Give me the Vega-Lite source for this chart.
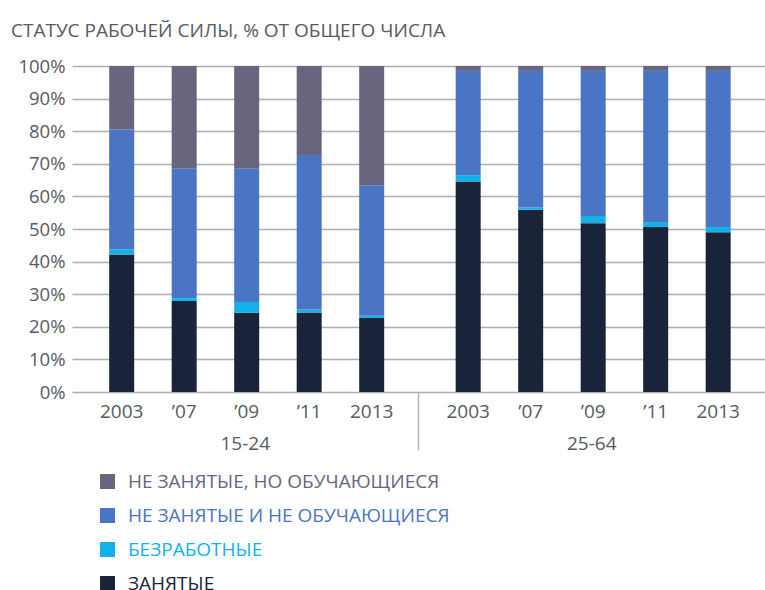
{
  "$schema": "https://vega.github.io/schema/vega-lite/v6.json",
  "width": 693,
  "height": 326,
  "autosize": {"type": "none"},
  "padding": {"left": 72, "top": 66, "right": 0, "bottom": 198},
  "background": "white",
  "config": {
    "font": "Open Sans",
    "view": {"stroke": null},
    "axisY": {
      "labelOverlap": false,
      "title": null,
      "values": [0, 10, 20, 30, 40, 50, 60, 70, 80, 90, 100],
      "labelExpr": "datum.value + '%'",
      "domain": false,
      "ticks": false,
      "grid": true,
      "gridColor": "#adadb8",
      "gridWidth": 1.5,
      "labelPadding": 7,
      "labelFontSize": 18.5,
      "labelColor": "#555a63"
    }
  },
  "title": {
    "text": "СТАТУС РАБОЧЕЙ СИЛЫ, % ОТ ОБЩЕГО ЧИСЛА",
    "anchor": "start",
    "frame": "bounds",
    "fontSize": 19,
    "fontWeight": "normal",
    "color": "#555a63",
    "offset": 16,
    "dx": -7
  },
  "data": {
    "values": [
      {"group": "15-24", "year": "2003", "status": "ЗАНЯТЫЕ", "k": 1, "value": 42.2},
      {"group": "15-24", "year": "2003", "status": "БЕЗРАБОТНЫЕ", "k": 2, "value": 1.6},
      {"group": "15-24", "year": "2003", "status": "НЕ ЗАНЯТЫЕ И НЕ ОБУЧАЮЩИЕСЯ", "k": 3, "value": 36.7},
      {"group": "15-24", "year": "2003", "status": "НЕ ЗАНЯТЫЕ, НО ОБУЧАЮЩИЕСЯ", "k": 4, "value": 19.5},
      {"group": "15-24", "year": "’07", "status": "ЗАНЯТЫЕ", "k": 1, "value": 27.9},
      {"group": "15-24", "year": "’07", "status": "БЕЗРАБОТНЫЕ", "k": 2, "value": 0.9},
      {"group": "15-24", "year": "’07", "status": "НЕ ЗАНЯТЫЕ И НЕ ОБУЧАЮЩИЕСЯ", "k": 3, "value": 39.7},
      {"group": "15-24", "year": "’07", "status": "НЕ ЗАНЯТЫЕ, НО ОБУЧАЮЩИЕСЯ", "k": 4, "value": 31.5},
      {"group": "15-24", "year": "’09", "status": "ЗАНЯТЫЕ", "k": 1, "value": 24.3},
      {"group": "15-24", "year": "’09", "status": "БЕЗРАБОТНЫЕ", "k": 2, "value": 3.3},
      {"group": "15-24", "year": "’09", "status": "НЕ ЗАНЯТЫЕ И НЕ ОБУЧАЮЩИЕСЯ", "k": 3, "value": 40.9},
      {"group": "15-24", "year": "’09", "status": "НЕ ЗАНЯТЫЕ, НО ОБУЧАЮЩИЕСЯ", "k": 4, "value": 31.5},
      {"group": "15-24", "year": "’11", "status": "ЗАНЯТЫЕ", "k": 1, "value": 24.4},
      {"group": "15-24", "year": "’11", "status": "БЕЗРАБОТНЫЕ", "k": 2, "value": 0.9},
      {"group": "15-24", "year": "’11", "status": "НЕ ЗАНЯТЫЕ И НЕ ОБУЧАЮЩИЕСЯ", "k": 3, "value": 47.4},
      {"group": "15-24", "year": "’11", "status": "НЕ ЗАНЯТЫЕ, НО ОБУЧАЮЩИЕСЯ", "k": 4, "value": 27.3},
      {"group": "15-24", "year": "2013", "status": "ЗАНЯТЫЕ", "k": 1, "value": 22.7},
      {"group": "15-24", "year": "2013", "status": "БЕЗРАБОТНЫЕ", "k": 2, "value": 0.7},
      {"group": "15-24", "year": "2013", "status": "НЕ ЗАНЯТЫЕ И НЕ ОБУЧАЮЩИЕСЯ", "k": 3, "value": 40.0},
      {"group": "15-24", "year": "2013", "status": "НЕ ЗАНЯТЫЕ, НО ОБУЧАЮЩИЕСЯ", "k": 4, "value": 36.6},
      {"group": "25-64", "year": "2003", "status": "ЗАНЯТЫЕ", "k": 1, "value": 64.6},
      {"group": "25-64", "year": "2003", "status": "БЕЗРАБОТНЫЕ", "k": 2, "value": 1.9},
      {"group": "25-64", "year": "2003", "status": "НЕ ЗАНЯТЫЕ И НЕ ОБУЧАЮЩИЕСЯ", "k": 3, "value": 32.0},
      {"group": "25-64", "year": "2003", "status": "НЕ ЗАНЯТЫЕ, НО ОБУЧАЮЩИЕСЯ", "k": 4, "value": 1.5},
      {"group": "25-64", "year": "’07", "status": "ЗАНЯТЫЕ", "k": 1, "value": 55.9},
      {"group": "25-64", "year": "’07", "status": "БЕЗРАБОТНЫЕ", "k": 2, "value": 0.7},
      {"group": "25-64", "year": "’07", "status": "НЕ ЗАНЯТЫЕ И НЕ ОБУЧАЮЩИЕСЯ", "k": 3, "value": 41.9},
      {"group": "25-64", "year": "’07", "status": "НЕ ЗАНЯТЫЕ, НО ОБУЧАЮЩИЕСЯ", "k": 4, "value": 1.5},
      {"group": "25-64", "year": "’09", "status": "ЗАНЯТЫЕ", "k": 1, "value": 51.8},
      {"group": "25-64", "year": "’09", "status": "БЕЗРАБОТНЫЕ", "k": 2, "value": 2.2},
      {"group": "25-64", "year": "’09", "status": "НЕ ЗАНЯТЫЕ И НЕ ОБУЧАЮЩИЕСЯ", "k": 3, "value": 44.5},
      {"group": "25-64", "year": "’09", "status": "НЕ ЗАНЯТЫЕ, НО ОБУЧАЮЩИЕСЯ", "k": 4, "value": 1.5},
      {"group": "25-64", "year": "’11", "status": "ЗАНЯТЫЕ", "k": 1, "value": 50.6},
      {"group": "25-64", "year": "’11", "status": "БЕЗРАБОТНЫЕ", "k": 2, "value": 1.5},
      {"group": "25-64", "year": "’11", "status": "НЕ ЗАНЯТЫЕ И НЕ ОБУЧАЮЩИЕСЯ", "k": 3, "value": 46.4},
      {"group": "25-64", "year": "’11", "status": "НЕ ЗАНЯТЫЕ, НО ОБУЧАЮЩИЕСЯ", "k": 4, "value": 1.5},
      {"group": "25-64", "year": "2013", "status": "ЗАНЯТЫЕ", "k": 1, "value": 49.0},
      {"group": "25-64", "year": "2013", "status": "БЕЗРАБОТНЫЕ", "k": 2, "value": 1.6},
      {"group": "25-64", "year": "2013", "status": "НЕ ЗАНЯТЫЕ И НЕ ОБУЧАЮЩИЕСЯ", "k": 3, "value": 47.9},
      {"group": "25-64", "year": "2013", "status": "НЕ ЗАНЯТЫЕ, НО ОБУЧАЮЩИЕСЯ", "k": 4, "value": 1.5}
    ]
  },
  "layer": [
    {
      "mark": {"type": "bar"},
      "encoding": {
        "x": {
          "field": "group",
          "type": "nominal",
          "scale": {"paddingInner": 0, "paddingOuter": 0},
          "axis": {
            "title": null,
            "domain": false,
            "grid": false,
            "ticks": true,
            "tickSize": 58,
            "bandPosition": 1,
            "tickColor": "#b3b3bd",
            "tickWidth": 1.5,
            "tickOpacity": {"condition": {"test": "datum.value === '15-24'", "value": 1}, "value": 0},
            "labelPadding": -16,
            "labelFontSize": 19,
            "labelColor": "#555a63",
            "labelAngle": 0
          }
        },
        "xOffset": {
          "field": "year",
          "type": "nominal",
          "sort": ["2003", "’07", "’09", "’11", "2013"],
          "scale": {"paddingInner": 0.6, "paddingOuter": 0.572, "align": 0.52}
        },
        "y": {
          "field": "value",
          "type": "quantitative",
          "stack": "zero",
          "scale": {"domain": [0, 100]},
          "axis": {"labelOverlap": false, "values": [0, 10, 20, 30, 40, 50, 60, 70, 80, 90, 100], "labelExpr": "datum.value + '%'"}
        },
        "color": {
          "field": "status",
          "type": "nominal",
          "scale": {
            "domain": ["НЕ ЗАНЯТЫЕ, НО ОБУЧАЮЩИЕСЯ", "НЕ ЗАНЯТЫЕ И НЕ ОБУЧАЮЩИЕСЯ", "БЕЗРАБОТНЫЕ", "ЗАНЯТЫЕ"],
            "range": ["#67667e", "#4a74c4", "#12b1ea", "#19233a"]
          },
          "legend": {
            "orient": "none",
            "legendX": 26,
            "legendY": 406,
            "title": null,
            "symbolType": "square",
            "symbolSize": 225,
            "symbolStrokeWidth": 0,
            "symbolOpacity": 1,
            "labelFontSize": 19,
            "labelOffset": 11,
            "rowPadding": 14,
            "labelLimit": 600,
            "encode": {"labels": {"update": {"fill": {"scale": "color", "field": "value"}}}}
          }
        },
        "order": {"field": "k", "type": "quantitative"}
      }
    },
    {
      "transform": [{"filter": "datum.k === 1"}],
      "mark": {"type": "text", "dy": 20, "fontSize": 19, "color": "#555a63"},
      "encoding": {
        "x": {"field": "group", "type": "nominal"},
        "xOffset": {"field": "year", "type": "nominal", "sort": ["2003", "’07", "’09", "’11", "2013"]},
        "y": {"datum": 0, "axis": {"labelOverlap": false, "values": [0, 10, 20, 30, 40, 50, 60, 70, 80, 90, 100], "labelExpr": "datum.value + '%'"}},
        "text": {"field": "year"}
      }
    }
  ]
}
